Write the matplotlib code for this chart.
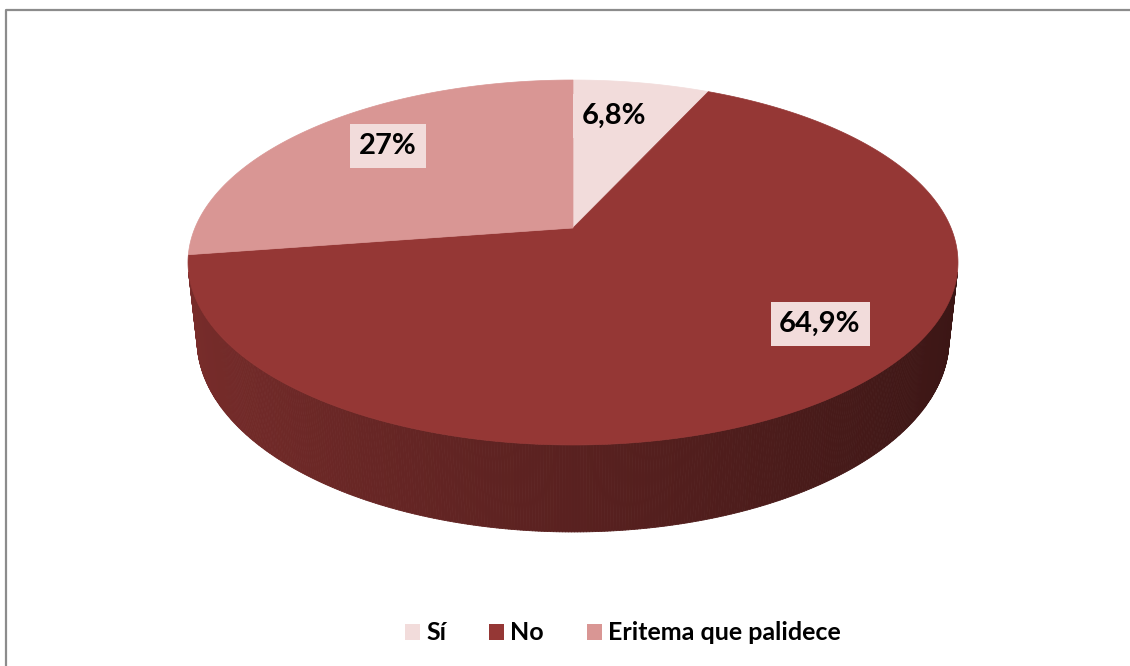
import numpy as np
import matplotlib.pyplot as plt
from matplotlib.patches import Polygon, Patch
from matplotlib.collections import PolyCollection
from matplotlib.colors import to_rgb

# Datos
categorias = ['Sí', 'No', 'Eritema que palidece']
valores = [6.8, 64.9, 27]
etiquetas = ['6,8%', '64,9%', '27%']
colores = ['#F2DCDB', '#953735', '#D99694']

# posicion de las etiquetas (px)
pos_etiquetas = [(614, 116), (820, 324), (388, 146)]

# vista 3D (perspectiva tipo Excel)
FOCAL = 1770
DIST = 4.682
ELEV = np.radians(27.74)
GROSOR = 0.2317
CX, CY = 573, 228

plt.rcParams['font.family'] = ['Lato', 'DejaVu Sans']


def proyectar(x, y, z):
    arriba = y * np.sin(ELEV) + z * np.cos(ELEV)
    prof = y * np.cos(ELEV) - z * np.sin(ELEV) + DIST
    return CX + FOCAL * x / prof, CY - FOCAL * arriba / prof


fig = plt.figure(figsize=(11.3, 6.66), dpi=100)
ax = fig.add_axes([0, 0, 1, 1])
ax.set_xlim(0, 1130)
ax.set_ylim(666, 0)
ax.axis('off')

# marco (solo se ven el borde superior e izquierdo)
ax.plot([6, 6, 1130], [666, 10, 10], color='#8C8C8C', lw=1.6, solid_capstyle='butt')

frac = np.array(valores) / np.sum(valores)
bordes = np.concatenate([[0], np.cumsum(frac)]) * 360

# rango visible de la pared lateral
cam_y = -DIST * np.cos(ELEV)
lim = np.degrees(np.arccos(1 / cam_y))
vis0, vis1 = lim, 360 - lim

# pared lateral
for i in range(len(valores)):
    a0 = max(bordes[i], vis0)
    a1 = min(bordes[i + 1], vis1)
    if a1 <= a0:
        continue
    t = np.radians(np.linspace(a0, a1, 400))
    base = np.array(to_rgb(colores[i]))
    polys, cols = [], []
    for k in range(len(t) - 1):
        ta, tb = t[k], t[k + 1]
        xs = np.array([np.sin(ta), np.sin(tb), np.sin(tb), np.sin(ta)])
        ys = np.array([np.cos(ta), np.cos(tb), np.cos(tb), np.cos(ta)])
        zs = np.array([0, 0, -GROSOR, -GROSOR])
        px, py = proyectar(xs, ys, zs)
        polys.append(np.column_stack([px, py]))
        f = 0.60 - 0.21 * np.sin((ta + tb) / 2)
        cols.append(np.clip(base * f, 0, 1))
    ax.add_collection(PolyCollection(polys, facecolors=cols, edgecolors=cols, linewidths=0.6))

# caras superiores
for i in range(len(valores)):
    t = np.radians(np.linspace(bordes[i], bordes[i + 1], 300))
    xs = np.concatenate([[0], np.sin(t)])
    ys = np.concatenate([[0], np.cos(t)])
    px, py = proyectar(xs, ys, np.zeros_like(xs))
    ax.add_patch(Polygon(np.column_stack([px, py]), closed=True,
                         facecolor=colores[i], edgecolor=colores[i], lw=0.5))

# etiquetas de datos
for txt, (x, y) in zip(etiquetas, pos_etiquetas):
    ax.text(x, y, txt, ha='center', va='center', fontsize=21, fontweight='bold',
            color='black',
            bbox=dict(boxstyle='square,pad=0.3', facecolor='#F2DCDB', edgecolor='none'))

# leyenda
manejadores = [Patch(facecolor=c, edgecolor='none') for c in colores]
ax.legend(manejadores, categorias, loc='center', ncol=3, frameon=False,
          bbox_to_anchor=(623 / 1130, 1 - 633 / 666),
          prop={'family': 'Lato', 'weight': 'bold', 'size': 18},
          handlelength=0.6, handleheight=0.6, handletextpad=0.25, columnspacing=1.7)

fig.savefig('out.png', dpi=100)
